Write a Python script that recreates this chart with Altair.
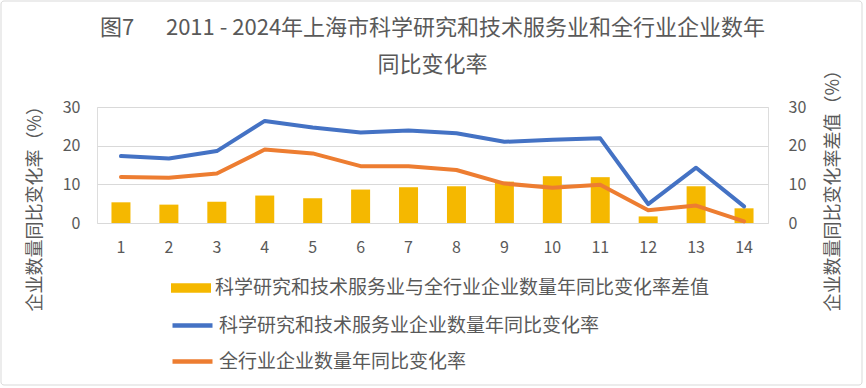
import altair as alt
import pandas as pd

FONT = "Noto Sans CJK SC"
GREY = "#595959"

idx = [str(i) for i in range(1, 15)]
sci_rate = [17.3, 16.7, 18.6, 26.4, 24.7, 23.4, 23.9, 23.2, 21.0, 21.5, 21.9, 4.9, 14.3, 4.3]
all_rate = [11.9, 11.7, 12.8, 19.0, 18.0, 14.7, 14.7, 13.7, 10.2, 9.1, 9.9, 3.3, 4.5, 0.4]
diff_rate = [5.35, 4.75, 5.5, 7.1, 6.4, 8.65, 9.25, 9.5, 10.7, 12.1, 11.85, 1.7, 9.5, 3.8]

bar_name = "科学研究和技术服务业与全行业企业数量年同比变化率差值"
sci_name = "科学研究和技术服务业企业数量年同比变化率"
all_name = "全行业企业数量年同比变化率"

title_lines = ["图7\u3000\u00a0\u00a02011 - 2024年上海市科学研究和技术服务业和全行业企业数年", "同比变化率"]
left_title = "企业数量同比变化率（%）"
right_title = "企业数量同比变化率差值（%）"
y_ticks = [0, 10, 20, 30]

df = pd.DataFrame({"idx": idx, "sci": sci_rate, "all": all_rate, "diff": diff_rate,
                   "bar_s": bar_name, "sci_s": sci_name, "all_s": all_name})

x_enc = alt.X("idx:O", sort=idx,
              scale=alt.Scale(paddingInner=0, paddingOuter=0),
              axis=alt.Axis(title=None, labelAngle=0, ticks=False, tickSize=0, domain=False,
                            labelPadding=16, labelFontSize=16, labelFont=FONT, labelColor=GREY))

base = alt.Chart(df)

def leg(x, y, sym, sw):
    return alt.Legend(orient="none", legendX=x, legendY=y, title=None, padding=0,
                      symbolType=sym, symbolSize=1600, symbolStrokeWidth=sw,
                      labelFontSize=19, labelFont=FONT, labelColor=GREY, labelOffset=4,
                      labelLimit=0)

bars = base.mark_bar(size=19).encode(
    x=x_enc,
    y=alt.Y("diff:Q", scale=alt.Scale(domain=[0, 30]),
            axis=alt.Axis(orient="right", values=y_ticks, grid=False, domain=False, ticks=False,
                          tickSize=0, labelPadding=20, labelFontSize=16, labelFont=FONT,
                          labelColor=GREY, labelOverlap=False,
                          title=right_title, titleFont=FONT, titleFontSize=18,
                          titleFontWeight="normal", titleColor=GREY, titleAngle=270,
                          titleAlign="left", titleBaseline="middle", titleX=65, titleY=204)),
    color=alt.Color("bar_s:N", scale=alt.Scale(domain=[bar_name], range=["#F5B800"]),
                    legend=leg(74, 161, "M-1,-0.24H1V0.24H-1Z", 0)),
)

def left_axis():
    return alt.Axis(orient="left", values=y_ticks, grid=True, gridColor="#D9D9D9",
                    domain=False, ticks=False, tickSize=0, labelPadding=17,
                    labelFontSize=16, labelFont=FONT, labelColor=GREY,
                    labelOverlap=False,
                    title=left_title, titleFont=FONT, titleFontSize=18,
                    titleFontWeight="normal", titleColor=GREY, titleAngle=270,
                    titleAlign="left", titleBaseline="middle", titleX=-62, titleY=204)

line_sci = base.mark_line(strokeWidth=4, strokeJoin="round", strokeCap="round").encode(
    x=x_enc,
    y=alt.Y("sci:Q", scale=alt.Scale(domain=[0, 30]), axis=left_axis()),
    stroke=alt.Stroke("sci_s:N", scale=alt.Scale(domain=[sci_name], range=["#4472C4"]),
                      legend=leg(73, 196, "M-1,0H1", 4.5)),
)

line_all = base.mark_line(strokeWidth=4, strokeJoin="round", strokeCap="round").encode(
    x=x_enc,
    y=alt.Y("all:Q", scale=alt.Scale(domain=[0, 30]), axis=left_axis()),
    color=alt.Color("all_s:N", scale=alt.Scale(domain=[all_name], range=["#ED7D31"]),
                    legend=leg(73, 232, "M-1,0H1", 4.5)),
)

frame = alt.Chart(pd.DataFrame({"a": [0]})).mark_rect(
    fill=None, stroke="#D9D9D9", strokeWidth=1, cornerRadius=3
).encode(x=alt.value(-96), x2=alt.value(765), y=alt.value(-106), y2=alt.value(278))

lines = alt.layer(line_sci, line_all)

chart = alt.layer(frame, bars, lines).resolve_scale(
    y="independent", color="independent", stroke="independent"
).properties(
    width=671, height=116,
    padding={"left": 97, "top": 107, "right": 98, "bottom": 165},
    autosize=alt.AutoSizeParams(type="none"),
    title=alt.TitleParams(text=title_lines, font=FONT, fontSize=22, fontWeight="normal",
                          color=GREY, lineHeight=37, anchor="middle", offset=22, dy=98),
).configure_view(stroke=None).configure(background="white")

chart.save("out.html", embed_options={"renderer": "svg", "actions": False})
